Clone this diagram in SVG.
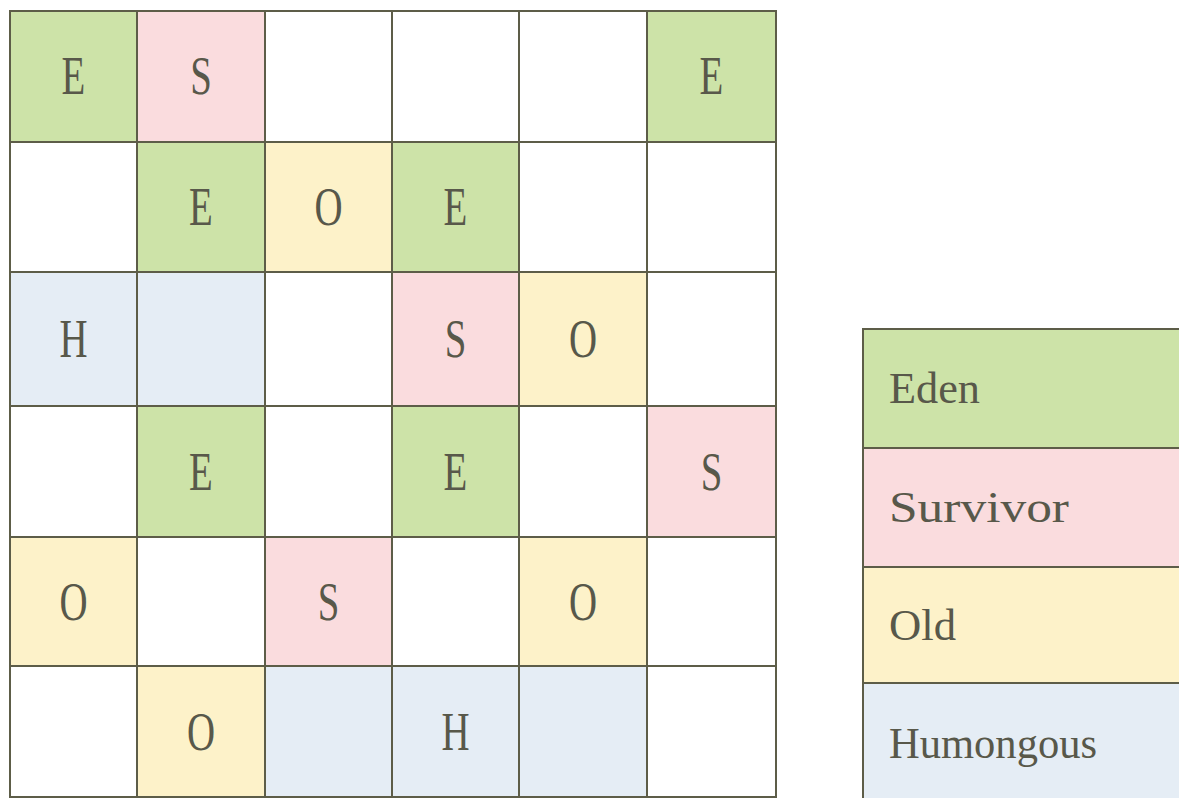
<svg xmlns="http://www.w3.org/2000/svg" width="1179" height="798" viewBox="0 0 1179 798">
<style>
.c{stroke:#5d5d48;stroke-width:2}
.e{fill:#cde3a8}.s{fill:#fadcde}.o{fill:#fdf2c9}.h{fill:#e5edf5}.w{fill:#ffffff}
.t{font-family:"Liberation Serif","DejaVu Serif",serif;font-size:54px;fill:#58584a;text-anchor:middle}
.l{font-family:"Liberation Serif","DejaVu Serif",serif;font-size:44px;fill:#58584a}
</style>
<rect width="1179" height="798" fill="#ffffff"/>
<g id="grid">
<g id="r0">
<rect class="c e" x="10" y="11" width="127" height="131"/><text class="t" transform="translate(73.5,94) scale(0.72,1)">E</text>
<rect class="c s" x="137" y="11" width="128" height="131"/><text class="t" transform="translate(201,94) scale(0.72,1)">S</text>
<rect class="c w" x="265" y="11" width="127" height="131"/>
<rect class="c w" x="392" y="11" width="127" height="131"/>
<rect class="c w" x="519" y="11" width="128" height="131"/>
<rect class="c e" x="647" y="11" width="129" height="131"/><text class="t" transform="translate(711.5,94) scale(0.72,1)">E</text>
</g>
<g id="r1">
<rect class="c w" x="10" y="142" width="127" height="130"/>
<rect class="c e" x="137" y="142" width="128" height="130"/><text class="t" transform="translate(201,225) scale(0.72,1)">E</text>
<rect class="c o" x="265" y="142" width="127" height="130"/><text class="t" transform="translate(328.5,225) scale(0.72,1)">O</text>
<rect class="c e" x="392" y="142" width="127" height="130"/><text class="t" transform="translate(455.5,225) scale(0.72,1)">E</text>
<rect class="c w" x="519" y="142" width="128" height="130"/>
<rect class="c w" x="647" y="142" width="129" height="130"/>
</g>
<g id="r2">
<rect class="c h" x="10" y="272" width="127" height="134"/><text class="t" transform="translate(73.5,357) scale(0.72,1)">H</text>
<rect class="c h" x="137" y="272" width="128" height="134"/>
<rect class="c w" x="265" y="272" width="127" height="134"/>
<rect class="c s" x="392" y="272" width="127" height="134"/><text class="t" transform="translate(455.5,357) scale(0.72,1)">S</text>
<rect class="c o" x="519" y="272" width="128" height="134"/><text class="t" transform="translate(583,357) scale(0.72,1)">O</text>
<rect class="c w" x="647" y="272" width="129" height="134"/>
</g>
<g id="r3">
<rect class="c w" x="10" y="406" width="127" height="131"/>
<rect class="c e" x="137" y="406" width="128" height="131"/><text class="t" transform="translate(201,489.5) scale(0.72,1)">E</text>
<rect class="c w" x="265" y="406" width="127" height="131"/>
<rect class="c e" x="392" y="406" width="127" height="131"/><text class="t" transform="translate(455.5,489.5) scale(0.72,1)">E</text>
<rect class="c w" x="519" y="406" width="128" height="131"/>
<rect class="c s" x="647" y="406" width="129" height="131"/><text class="t" transform="translate(711.5,489.5) scale(0.72,1)">S</text>
</g>
<g id="r4">
<rect class="c o" x="10" y="537" width="127" height="129"/><text class="t" transform="translate(73.5,619.5) scale(0.72,1)">O</text>
<rect class="c w" x="137" y="537" width="128" height="129"/>
<rect class="c s" x="265" y="537" width="127" height="129"/><text class="t" transform="translate(328.5,619.5) scale(0.72,1)">S</text>
<rect class="c w" x="392" y="537" width="127" height="129"/>
<rect class="c o" x="519" y="537" width="128" height="129"/><text class="t" transform="translate(583,619.5) scale(0.72,1)">O</text>
<rect class="c w" x="647" y="537" width="129" height="129"/>
</g>
<g id="r5">
<rect class="c w" x="10" y="666" width="127" height="131"/>
<rect class="c o" x="137" y="666" width="128" height="131"/><text class="t" transform="translate(201,749.5) scale(0.72,1)">O</text>
<rect class="c h" x="265" y="666" width="127" height="131"/>
<rect class="c h" x="392" y="666" width="127" height="131"/><text class="t" transform="translate(455.5,749.5) scale(0.72,1)">H</text>
<rect class="c h" x="519" y="666" width="128" height="131"/>
<rect class="c w" x="647" y="666" width="129" height="131"/>
</g>
</g>
<g id="legend">
<g id="leg-eden"><rect class="c e" x="863" y="329" width="340" height="119"/><text class="l" x="889" y="403" textLength="91" lengthAdjust="spacingAndGlyphs">Eden</text></g>
<g id="leg-survivor"><rect class="c s" x="863" y="448" width="340" height="119"/><text class="l" x="889" y="522" textLength="180" lengthAdjust="spacingAndGlyphs">Survivor</text></g>
<g id="leg-old"><rect class="c o" x="863" y="567" width="340" height="116"/><text class="l" x="889" y="640" textLength="67" lengthAdjust="spacingAndGlyphs">Old</text></g>
<g id="leg-humongous"><rect class="c h" x="863" y="683" width="340" height="130"/><text class="l" x="889" y="758" textLength="208" lengthAdjust="spacingAndGlyphs">Humongous</text></g>
</g>
<g id="connectors"/>
</svg>
